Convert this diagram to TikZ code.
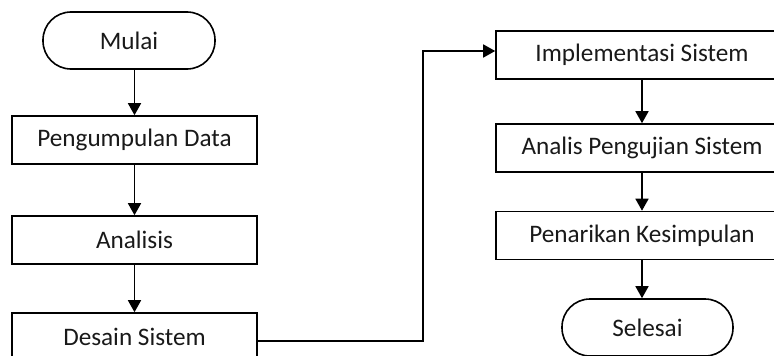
\documentclass[tikz,border=0pt]{standalone}
\usepackage{fontspec}
\setmainfont{Carlito}
\usetikzlibrary{arrows.meta}
\begin{document}
\begin{tikzpicture}[x=1pt,y=-1pt,
  every node/.style={font=\fontsize{25.2}{30}\selectfont, inner sep=0pt, text=black!90},
  procbox/.style={draw, line width=1.6pt, rectangle, minimum width=245pt, minimum height=48pt},
  rprocbox/.style={procbox, minimum width=292pt},
  termbox/.style={draw, line width=1.6pt, rectangle, rounded corners=28pt, minimum width=172pt, minimum height=57pt},
  flow/.style={line width=1.6pt, -{Triangle[length=12pt,width=13pt]}},
  plain/.style={line width=1.6pt}]
\useasboundingbox (0,0) rectangle (774,356);
\clip (0,0) rectangle (774,356);
\node[termbox] (mulai) at (129,40.5) {Mulai};
\node[procbox] (pd) at (134.5,140) {Pengumpulan Data};
\node[procbox] (an) at (134.5,240) {Analisis};
\node[procbox] (ds) at (134.5,337) {Desain Sistem};
\node[rprocbox] (im) at (642,55) {Implementasi Sistem};
\node[rprocbox] (ap) at (642,148) {Analis Pengujian Sistem};
\node[rprocbox] (pk) at (642,235.5) {Penarikan Kesimpulan};
\node[termbox, minimum width=171pt] (se) at (647.5,327.5) {Selesai};
\coordinate (bend) at (423,51);
\draw[flow] (pd.north |- mulai.south) -- (pd.north);
\draw[flow] (pd.south) -- (an.north);
\draw[flow] (an.south) -- (ds.north);
\draw[flow] ([yshift=-4pt]ds.east) -| (bend) -- (bend -| im.west);
\draw[flow] (im.south) -- (ap.north);
\draw[flow] (ap.south) -- (pk.north);
\draw[flow] (pk.south) -- (pk.south |- se.north);
\end{tikzpicture}
\end{document}
